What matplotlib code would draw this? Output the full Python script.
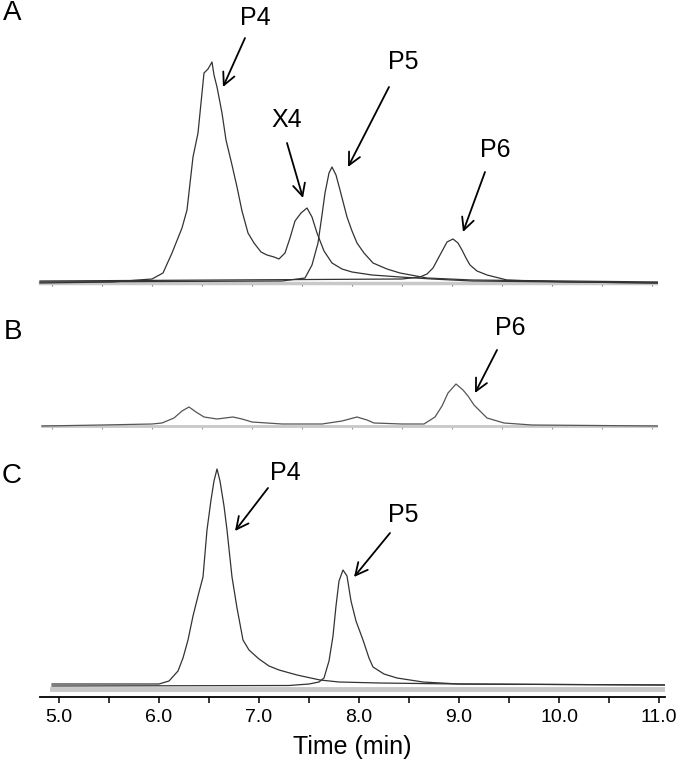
import matplotlib
matplotlib.use("Agg")
import matplotlib.pyplot as plt
import numpy as np

plt.rcParams['font.family'] = ['Liberation Sans', 'DejaVu Sans']

# Panel A traces (time in min, detector response)
a_p4x4_t = [4.88, 5.6, 6.0, 6.11, 6.2, 6.3, 6.35, 6.41, 6.46, 6.52, 6.56, 6.6, 6.62, 6.65, 6.7,
            6.74, 6.8, 6.85, 6.9, 6.96, 7.02, 7.09, 7.15, 7.22, 7.27, 7.33, 7.38, 7.43, 7.49, 7.55,
            7.6, 7.65, 7.72, 7.8, 7.9, 8.0, 8.2, 8.48, 8.8, 9.2, 11.07]
a_p4x4_h = [0, 1, 4, 10, 30, 55, 73, 126, 150, 210, 214, 221, 208, 196, 170,
            143, 118, 96, 72, 50, 40, 31, 28, 26, 24, 30, 45, 62, 70, 75,
            66, 50, 32, 20, 14, 11, 8, 6, 4, 2, 0]
a_p5_t = [4.88, 7.3, 7.53, 7.6, 7.66, 7.7, 7.73, 7.77, 7.8, 7.84, 7.88, 7.95, 8.0, 8.05, 8.12,
          8.21, 8.35, 8.48, 8.75, 9.2, 11.07]
a_p5_h = [1, 2, 5, 18, 40, 68, 90, 110, 116, 108, 93, 66, 52, 40, 30, 20, 14, 10, 5, 3, 1]
a_p6_t = [4.88, 8.5, 8.68, 8.75, 8.81, 8.88, 8.95, 9.01, 9.06, 9.1, 9.14, 9.18, 9.25, 9.35,
          9.55, 9.8, 10.2, 11.07]
a_p6_h = [2, 4, 6, 9, 15, 28, 41, 44, 40, 33, 25, 18, 12, 8, 3, 2, 1, 0]

# Panel B trace
b_t = [4.9, 5.5, 6.0, 6.1, 6.22, 6.3, 6.37, 6.44, 6.52, 6.65, 6.81, 6.9, 7.0, 7.3, 7.7, 7.9,
       8.05, 8.15, 8.22, 8.5, 8.72, 8.83, 8.9, 8.96, 9.04, 9.11, 9.16, 9.22, 9.35, 9.52, 9.8, 11.07]
b_h = [0, 1, 2, 3, 8, 15, 19, 14, 9, 7, 9, 7, 4, 2, 2, 5,
       9, 6, 3, 2, 2, 9, 20, 33, 42, 36, 30, 21, 8, 3, 1, 0]

# Panel C traces
c_p4_t = [4.93, 6.0, 6.1, 6.19, 6.24, 6.29, 6.34, 6.39, 6.44, 6.48, 6.52, 6.55, 6.58, 6.61, 6.65,
          6.68, 6.73, 6.78, 6.84, 6.9, 7.0, 7.1, 7.2, 7.38, 7.61, 7.8, 8.2, 9.0, 11.07]
c_p4_h = [2, 2, 5, 15, 28, 46, 70, 90, 109, 156, 186, 205, 217, 205, 180,
          156, 109, 78, 46, 36, 27, 20, 16, 11, 6, 4, 3, 2, 1]
c_p5_t = [4.93, 7.3, 7.5, 7.6, 7.65, 7.7, 7.74, 7.77, 7.8, 7.84, 7.88, 7.92, 7.97, 8.04, 8.1,
          8.14, 8.25, 8.38, 8.64, 9.0, 11.07]
c_p5_h = [0, 0.5, 2, 4, 8, 25, 50, 80, 105, 116, 110, 85, 65, 46, 28, 19, 12, 8, 4, 2, 1]

W, H = 680, 765
fig = plt.figure(figsize=(6.8, 7.65), dpi=100)


def make_ax(left_px, top_px, bottom_px, base_px):
    ax = fig.add_axes([left_px / W, 1 - bottom_px / H, 625 / W, (bottom_px - top_px) / H])
    ax.set_xlim(4.81, 11.06)
    ax.set_ylim(base_px - bottom_px, base_px - top_px)
    ax.set_facecolor('none')
    for s in ['top', 'right', 'left']:
        ax.spines[s].set_visible(False)
    ax.set_yticks([])
    return ax


def arrow(ax, label, txt, start, tip):
    ax.text(txt[0], txt[1], label, fontsize=18, ha='center', va='center')
    ax.annotate('', xy=tip, xytext=start,
                arrowprops=dict(arrowstyle='->', lw=1.3, color='black', mutation_scale=22,
                                shrinkA=0, shrinkB=0))


trace = dict(color='#333333', lw=0.9)

# ---- A ----
axA = make_ax(33, 0, 295, 283)
axA.plot([4.88, 11.07], [0, 0], color='#c8c8c8', lw=2.5)
axA.plot(a_p4x4_t, a_p4x4_h, **trace)
axA.plot(a_p5_t, a_p5_h, **trace)
axA.plot(a_p6_t, a_p6_h, **trace)
axA.spines['bottom'].set_visible(False)
axA.set_xticks(np.arange(5.0, 11.01, 0.5))
axA.set_xticklabels([])
axA.tick_params(axis='x', direction='out', length=2.5, width=0.8, color='#777777', pad=0)
axA.spines['bottom'].set_position(('data', 0))
arrow(axA, 'P4', (7.03, 265), (6.93, 245), (6.71, 196))
arrow(axA, 'X4', (7.35, 163), (7.35, 140), (7.51, 85))
arrow(axA, 'P5', (8.51, 221), (8.37, 196), (7.96, 116))
arrow(axA, 'P6', (9.43, 133), (9.33, 111), (9.11, 51))

# ---- B ----
axB = make_ax(33, 300, 440, 426)
axB.plot([4.9, 11.07], [0, 0], color='#c8c8c8', lw=2.0)
axB.plot(b_t, b_h, color='#555555', lw=0.9)
axB.spines['bottom'].set_visible(False)
axB.set_xticks(np.arange(5.0, 11.01, 0.5))
axB.set_xticklabels([])
axB.tick_params(axis='x', direction='out', length=2, width=0.8, color='#999999', pad=0)
axB.spines['bottom'].set_position(('data', 0))
arrow(axB, 'P6', (9.58, 98), (9.45, 76), (9.23, 33))

# ---- C ----
axC = make_ax(40, 440, 697, 686)
axC.plot([4.93, 11.07], [-3, -3], color='#c8c8c8', lw=3.5)
axC.plot(c_p4_t, c_p4_h, **trace)
axC.plot(c_p5_t, c_p5_h, **trace)
axC.spines['bottom'].set_linewidth(1.3)
axC.set_xticks(np.arange(5.0, 11.01, 1.0))
axC.set_xticklabels(['5.0', '6.0', '7.0', '8.0', '9.0', '10.0', '11.0'], fontsize=14)
axC.set_xticks(np.arange(5.5, 11.0, 1.0), minor=True)
axC.tick_params(axis='x', which='both', direction='out', length=4, width=1.1, pad=5)
axC.set_xlabel('Time (min)', fontsize=18, labelpad=6)
arrow(axC, 'P4', (7.26, 213), (7.09, 198), (6.76, 155))
arrow(axC, 'P5', (8.44, 171), (8.31, 153), (7.95, 109))

# panel letters
for lab, x, y in [('A', 12, 13), ('B', 13, 332), ('C', 12, 476)]:
    fig.text(x / W, 1 - y / H, lab, fontsize=20, ha='center', va='center')

fig.savefig('out.png', dpi=100)
